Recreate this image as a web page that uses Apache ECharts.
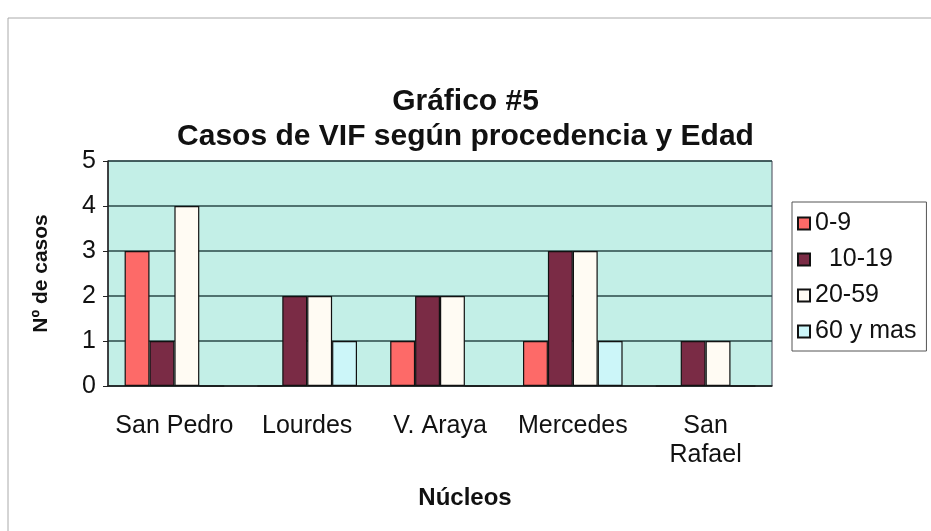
<!DOCTYPE html>
<html>
<head>
<meta charset="utf-8">
<script src="https://cdn.jsdelivr.net/npm/echarts@6/dist/echarts.min.js"></script>
<style>
  html, body { margin: 0; padding: 0; background: #fff; }
  #chart { width: 931px; height: 531px; }
</style>
</head>
<body>
<div id="chart"></div>
<script>
const nucleos = ["San Pedro", "Lourdes", "V. Araya", "Mercedes", "San Rafael"];
const edad0a9 = [3, 0, 1, 1, 0];
const edad10a19 = [1, 2, 2, 3, 1];
const edad20a59 = [4, 2, 2, 3, 1];
const edad60mas = [0, 1, 0, 1, 0];
const yTicks = [0, 1, 2, 3, 4, 5];

const font = "Liberation Sans, Arial, sans-serif";
const chart = echarts.init(document.getElementById("chart"));

function barSeries(name, data, color) {
  return {
    name,
    type: "bar",
    data,
    barGap: "0%",
    barCategoryGap: "25%",
    itemStyle: { color, borderColor: "#111", borderWidth: 1.2 }
  };
}

chart.setOption({
  backgroundColor: "#fff",
  animation: false,
  title: {
    text: "Gráfico #5\nCasos de VIF según procedencia y Edad",
    left: "center",
    top: 79,
    textStyle: { fontFamily: font, fontSize: 30, fontWeight: "bold", color: "#111", lineHeight: 35 }
  },
  graphic: [
    {
      type: "rect",
      shape: { x: 8, y: 18, width: 1000, height: 700 },
      style: { fill: "none", stroke: "#aaa", lineWidth: 1 },
      silent: true
    }
  ],
  legend: {
    orient: "vertical",
    left: 792,
    top: 202,
    padding: [9, 10, 7, 5],
    itemGap: 11,
    itemWidth: 12,
    itemHeight: 12,
    icon: "rect",
    borderColor: "#555",
    borderWidth: 1,
    backgroundColor: "#fff",
    formatter: n => (n === "10-19" ? "  10-19" : n),
    textStyle: { fontFamily: font, fontSize: 25, color: "#111" },
    data: ["0-9", "10-19", "20-59", "60 y mas"]
  },
  grid: {
    left: 108,
    right: 159,
    top: 161,
    bottom: 145,
    show: true,
    backgroundColor: "#c3efe7",
    borderColor: "#445",
    borderWidth: 1
  },
  xAxis: {
    type: "category",
    data: nucleos,
    name: "Núcleos",
    nameLocation: "middle",
    nameGap: 100,
    nameTextStyle: { fontFamily: font, fontSize: 24, fontWeight: "bold", color: "#111", padding: [0, 0, 0, 50] },
    axisLine: { lineStyle: { color: "#222", width: 1.5 } },
    axisTick: { length: 6, lineStyle: { color: "#222" } },
    axisLabel: {
      interval: 0,
      margin: 26,
      fontFamily: font,
      fontSize: 25,
      color: "#111",
      lineHeight: 29,
      formatter: v => (v === "San Rafael" ? "San\nRafael" : v)
    }
  },
  yAxis: {
    type: "value",
    min: yTicks[0],
    max: yTicks[yTicks.length - 1],
    interval: 1,
    name: "Nº de casos",
    nameLocation: "middle",
    nameGap: 56,
    nameTextStyle: { fontFamily: font, fontSize: 21, fontWeight: "bold", color: "#111" },
    axisLine: { show: true, lineStyle: { color: "#222", width: 1.5 } },
    axisTick: { show: true, length: 5, lineStyle: { color: "#222" } },
    axisLabel: { margin: 12, fontFamily: font, fontSize: 25, color: "#111" },
    splitLine: { lineStyle: { color: "#2a4848", width: 1.6 } }
  },
  series: [
    barSeries("0-9", edad0a9, "#fd6a68"),
    barSeries("10-19", edad10a19, "#7a2b45"),
    barSeries("20-59", edad20a59, "#fffbf3"),
    barSeries("60 y mas", edad60mas, "#ccf6f9")
  ]
});
</script>
</body>
</html>
